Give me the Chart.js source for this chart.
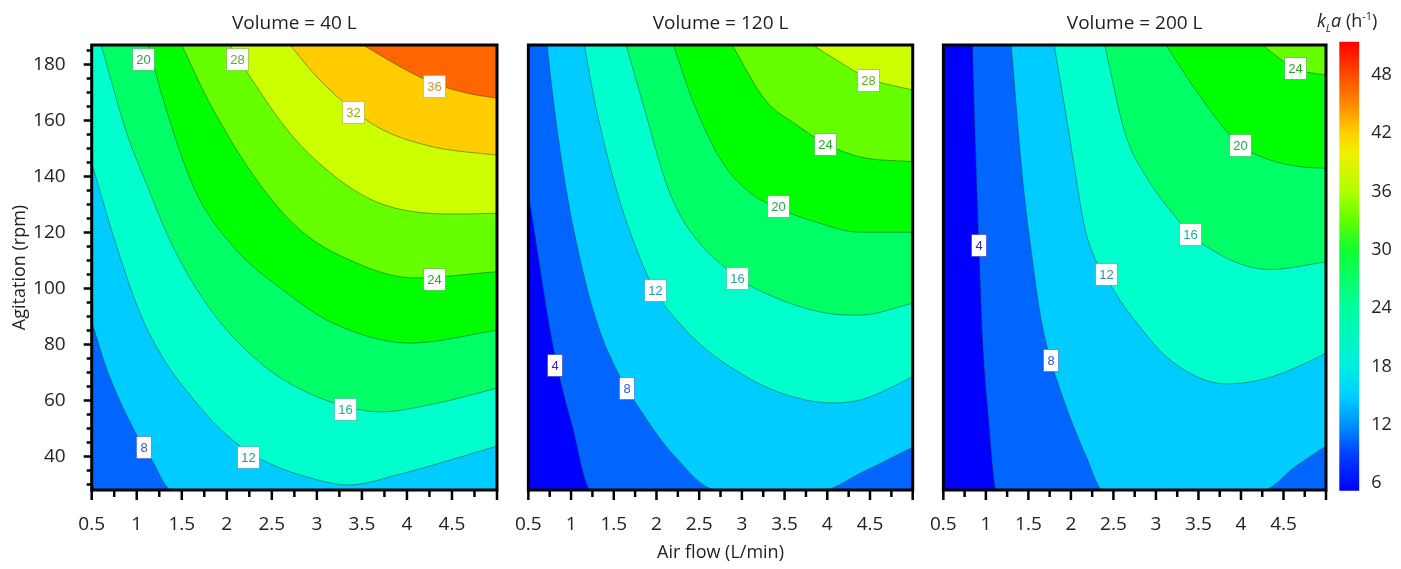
<!DOCTYPE html>
<html>
<head>
<meta charset="utf-8">
<script src="https://cdn.jsdelivr.net/npm/chart.js@4.4.1/dist/chart.umd.min.js"></script>
<style>
  body { margin: 0; background: #fff; }
  #wrap { position: relative; width: 1401px; height: 569px; overflow: hidden; }
  canvas { position: absolute; top: 0; }
</style>
</head>
<body>
<div id="wrap">
  <canvas id="p40" width="500" height="569" style="left:0px"></canvas>
  <canvas id="p120" width="415" height="569" style="left:500px"></canvas>
  <canvas id="p200" width="415" height="569" style="left:915px"></canvas>
  <canvas id="cbar" width="101" height="569" style="left:1300px"></canvas>
</div>
<script>
// axes
const airFlowRange = [0.5, 5];
const agitationRange = [28, 187];
const airFlowTicks = [0.5, 1, 1.5, 2, 2.5, 3, 3.5, 4, 4.5];
const agitationTicks = [40, 60, 80, 100, 120, 140, 160, 180];
const klaRange = [5.24, 51.4];
const klaTicks = [6, 12, 18, 24, 30, 36, 42, 48];
const volumes = ['Volume = 40 L', 'Volume = 120 L', 'Volume = 200 L'];
const levels = [4, 8, 12, 16, 20, 24, 28, 32, 36];

// contour lines: [air flow (L/min), agitation (rpm)]
// 40 L
const v40_4 = [[0.5, 31.6], [0.535, 28]];
const v40_8 = [[0.5, 88.1], [0.675, 70.5], [1.0, 47.6], [1.167, 38.7], [1.389, 28]];
const v40_12 = [[0.5, 144.8], [0.556, 138.7], [0.778, 114.9], [1.037, 91.2], [1.292, 75.1], [1.592, 61.9], [1.87, 51.6], [2.237, 41.6], [2.537, 36.6], [2.814, 33.4], [3.348, 29.8], [3.926, 33.7], [5, 43.7]];
const v40_16 = [[0.605, 187], [0.889, 155.5], [1.092, 138.7], [1.403, 114.9], [1.848, 91.2], [2.403, 72.6], [2.814, 64.1], [3.259, 58.4], [3.703, 55.9], [4.292, 58.7], [5, 64.4]];
const v40_20 = [[1.129, 187], [1.296, 167.3], [1.648, 135.1], [2.074, 114.9], [2.626, 99.4], [3.181, 87.6], [4.037, 80.5], [5, 85.1]];
const v40_24 = [[1.5, 187], [1.792, 167.3], [2.333, 138.7], [2.814, 120.9], [3.37, 110.1], [4.07, 103.8], [5, 106]];
const v40_28 = [[2.037, 187], [2.259, 175.6], [2.703, 155.4], [3.185, 140.4], [3.614, 131.6], [4.037, 127.6], [4.592, 126.6], [5, 126.9]];
const v40_32 = [[2.703, 187], [3.0, 175.6], [3.403, 163.7], [3.737, 156.6], [4.292, 150.6], [5, 147.6]];
const v40_36 = [[3.514, 187], [3.926, 179.2], [4.292, 173.4], [4.667, 169.8], [5, 168]];
// 120 L
const v120_4 = [[0.5, 134.1], [0.622, 110.1], [0.733, 88.7], [0.833, 72.6], [1.011, 51.2], [1.233, 28]];
const v120_8 = [[0.719, 187], [0.792, 167.3], [0.944, 135.1], [1.163, 103], [1.333, 85.1], [1.533, 70.9], [1.811, 56.6], [2.2, 40.5], [2.711, 28], [3.944, 28], [4.386, 34], [5, 43.3]];
const v120_12 = [[1.156, 187], [1.274, 167.3], [1.533, 135.1], [1.756, 114.9], [1.978, 99.4], [2.256, 88], [2.589, 78], [2.922, 70.9], [3.311, 64.4], [3.756, 60.1], [4.089, 59.1], [4.422, 60.5], [5, 68.4]];
const v120_16 = [[1.644, 187], [1.83, 167.3], [2.144, 135.1], [2.386, 120.9], [2.941, 104.2], [3.274, 98.3], [4.014, 91.1], [4.386, 90.5], [5, 94.7]];
const v120_20 = [[2.2, 187], [2.422, 167.3], [2.756, 145.9], [3.089, 134.4], [3.422, 128.7], [3.83, 124.1], [4.386, 120.1], [5, 120.1]];
const v120_24 = [[2.886, 187], [3.274, 167.3], [3.644, 158.4], [3.978, 151.8], [4.386, 147], [5, 145.3]];
const v120_28 = [[3.83, 187], [4.144, 180.9], [4.478, 175.1], [5, 170.9]];
// 200 L
const v200_4 = [[0.841, 187], [0.878, 149.4], [0.917, 115.5], [0.961, 81.6], [1.022, 56.6], [1.122, 28]];
const v200_8 = [[1.297, 187], [1.433, 138.7], [1.526, 114.9], [1.637, 91.1], [1.744, 76.2], [1.867, 64.4], [2.011, 52.3], [2.178, 40.1], [2.378, 28], [4.256, 28], [4.637, 36.3], [5, 43.7]];
const v200_12 = [[1.803, 187], [1.933, 163.7], [2.056, 140.5], [2.156, 122.6], [2.267, 111.9], [2.411, 104.1], [2.6, 94.8], [2.822, 85.9], [3.1, 76.2], [3.489, 68.4], [3.822, 65.9], [4.267, 67.6], [4.711, 72.6], [5, 76.9]];
const v200_16 = [[2.397, 187], [2.637, 155.5], [2.911, 138.7], [3.23, 125.6], [3.4, 119.4], [3.6, 114.9], [3.97, 109], [4.341, 106.8], [5, 109.5]];
const v200_20 = [[3.119, 187], [3.414, 173.3], [3.786, 157.8], [3.989, 151.2], [4.341, 145.9], [4.711, 143.5], [5, 142.9]];
const v200_24 = [[4.248, 187], [4.637, 178.6], [5, 176.2]];

// inline labels: [air flow, agitation, level]
const labels40 = [[1.07, 181.9, 20], [2.114, 181.9, 28], [3.403, 163, 32], [4.303, 172.3, 36], [4.304, 103.4, 24], [3.314, 56.9, 16], [2.237, 39.8, 12], [1.07, 43.4, 8]];
const labels120 = [[4.478, 174.4, 28], [3.978, 151.6, 24], [3.422, 129.4, 20], [2.944, 103.7, 16], [1.978, 99.4, 12], [1.644, 64.4, 8], [0.811, 72.6, 4]];
const labels200 = [[4.633, 178.7, 24], [3.989, 151.2, 20], [3.4, 119.4, 16], [2.411, 105.1, 12], [1.756, 74.4, 8], [0.908, 115.5, 4]];

// styles
const bandColors = ['#0000ff', '#0066ff', '#00ccff', '#00ffcc', '#00ff66', '#00ff00', '#66ff00', '#ccff00', '#ffcc00', '#ff6600'];
const labelColors = {4: '#2a2ab4', 8: '#2d5bd0', 12: '#1e94b8', 16: '#1fae8c', 20: '#22a845', 24: '#25a822', 28: '#5cae1e', 32: '#9ea814', 36: '#c89830'};
const klaStops = [[5.24, '#0000ff'], [9, '#0040ff'], [12, '#0090ff'], [15, '#00d0ff'], [18, '#00eee0'], [24, '#00ffa0'], [30, '#10ff30'], [33, '#60ff00'], [36, '#b0ff00'], [40, '#f0f000'], [42, '#ffd000'], [45.4, '#ff8000'], [48, '#ff4a00'], [51.4, '#ff0000']];

const fontFamily = '"Open Sans", "Noto Sans", sans-serif';
Chart.defaults.font.family = fontFamily;
Chart.defaults.color = '#222';

const panels = [
  { id: 'p40', title: volumes[0], yAxis: true, xTitle: false, padding: {left: 0, right: 3, top: 45, bottom: 0},
    lines: {4: v40_4, 8: v40_8, 12: v40_12, 16: v40_16, 20: v40_20, 24: v40_24, 28: v40_28, 32: v40_32, 36: v40_36}, labels: labels40 },
  { id: 'p120', title: volumes[1], yAxis: false, xTitle: true, padding: {left: 7, right: 2.3, top: 45, bottom: 0},
    lines: {4: v120_4, 8: v120_8, 12: v120_12, 16: v120_16, 20: v120_20, 24: v120_24, 28: v120_28}, labels: labels120 },
  { id: 'p200', title: volumes[2], yAxis: false, xTitle: false, padding: {left: 5.7, right: 4, top: 45, bottom: 0},
    lines: {4: v200_4, 8: v200_8, 12: v200_12, 16: v200_16, 20: v200_20, 24: v200_24}, labels: labels200 }
];

// a line that leaves through the bottom edge keeps its region closed along that edge
function closeBottom(pts) {
  const last = pts[pts.length - 1];
  const out = pts.slice();
  if (last[1] <= agitationRange[0] && last[0] < airFlowRange[1]) out.push([airFlowRange[1], agitationRange[0]]);
  return out;
}

const backgroundPlugin = {
  id: 'bandBackground',
  beforeDatasetsDraw(chart) {
    const {ctx, chartArea: a} = chart;
    ctx.save();
    ctx.fillStyle = bandColors[0];
    ctx.fillRect(a.left, a.top, a.right - a.left, a.bottom - a.top);
    ctx.restore();
  }
};

const contourLabelPlugin = {
  id: 'contourLabels',
  afterDatasetsDraw(chart, args, opts) {
    const {ctx, scales: {x, y}} = chart;
    ctx.save();
    ctx.font = '13px "Liberation Sans", Arial, sans-serif';
    ctx.textAlign = 'center';
    ctx.textBaseline = 'middle';
    opts.items.forEach(([vx, vy, level]) => {
      const px = x.getPixelForValue(vx);
      const py = y.getPixelForValue(vy);
      const text = String(level);
      const w = Math.round(ctx.measureText(text).width + 8);
      const h = 22;
      const left = Math.round(px - w / 2) + 0.5;
      const top = Math.round(py - h / 2) + 0.5;
      ctx.fillStyle = '#fff';
      ctx.fillRect(left, top, w, h);
      ctx.strokeStyle = labelColors[level] + '88';
      ctx.lineWidth = 1;
      ctx.strokeRect(left, top, w, h);
      ctx.fillStyle = labelColors[level];
      ctx.fillText(text, left + w / 2, top + h / 2 + 0.5);
    });
    ctx.restore();
  }
};

const framePlugin = {
  id: 'frame',
  afterDraw(chart, args, opts) {
    const {ctx, chartArea: a, scales: {x, y}} = chart;
    ctx.save();
    ctx.strokeStyle = '#000';
    ctx.lineWidth = 2.5;
    ctx.beginPath();
    for (let v = x.min; v <= x.max + 1e-9; v += 0.25) {
      const px = x.getPixelForValue(v);
      const major = Math.abs(v * 2 - Math.round(v * 2)) < 1e-6;
      ctx.moveTo(px, a.bottom);
      ctx.lineTo(px, a.bottom + (major ? 10 : 7));
    }
    if (opts.yTicks) {
      for (let v = 30; v <= y.max; v += 5) {
        const py = y.getPixelForValue(v);
        ctx.moveTo(a.left, py);
        ctx.lineTo(a.left - (v % 20 === 0 ? 8 : 5), py);
      }
    }
    ctx.stroke();
    ctx.lineWidth = 3;
    ctx.strokeRect(a.left, a.top, a.right - a.left, a.bottom - a.top);
    ctx.fillStyle = '#222';
    ctx.font = '19px ' + fontFamily;
    ctx.textAlign = 'center';
    ctx.textBaseline = 'middle';
    ctx.fillText(opts.title, (a.left + a.right) / 2, a.top - 21);
    ctx.restore();
  }
};

panels.forEach(p => {
  const datasets = levels.filter(l => p.lines[l]).map(l => ({
    label: String(l),
    data: closeBottom(p.lines[l]).map(([x, y]) => ({x, y})),
    borderColor: 'rgba(10, 50, 50, 0.55)',
    borderWidth: 0.8,
    backgroundColor: bandColors[levels.indexOf(l) + 1],
    fill: 'end',
    pointRadius: 0,
    cubicInterpolationMode: 'monotone',
    order: -l
  }));

  new Chart(document.getElementById(p.id), {
    type: 'line',
    data: { datasets },
    options: {
      responsive: false,
      animation: false,
      events: [],
      layout: { padding: p.padding },
      plugins: {
        legend: { display: false },
        tooltip: { enabled: false },
        contourLabels: { items: p.labels },
        frame: { title: p.title, yTicks: p.yAxis }
      },
      scales: {
        x: {
          type: 'linear',
          min: airFlowRange[0],
          max: airFlowRange[1],
          afterBuildTicks: s => { s.ticks = airFlowTicks.map(v => ({value: v})); },
          afterFit: s => { s.height = 79; },
          grid: { display: false },
          border: { display: false },
          ticks: { font: { size: 19 }, padding: 15, maxRotation: 0, autoSkip: false, callback: v => String(v) },
          title: { display: p.xTitle, text: 'Air flow (L/min)', font: { size: 18 }, padding: { top: 0, bottom: 5 } }
        },
        y: {
          type: 'linear',
          display: p.yAxis,
          min: agitationRange[0],
          max: agitationRange[1],
          afterBuildTicks: s => { s.ticks = agitationTicks.map(v => ({value: v})); },
          afterFit: s => { s.width = s.options.display ? 91.7 : 0; },
          grid: { display: false },
          border: { display: false },
          ticks: { font: { size: 19 }, padding: 18, callback: v => String(v) },
          title: { display: true, text: 'Agitation (rpm)', font: { size: 18 }, padding: { top: 9, bottom: 0 } }
        }
      }
    },
    plugins: [backgroundPlugin, contourLabelPlugin, framePlugin]
  });
});

function klaGradient(chart) {
  const {ctx, chartArea, scales} = chart;
  if (!chartArea) return bandColors[0];
  const y = scales.y;
  const g = ctx.createLinearGradient(0, y.getPixelForValue(klaRange[0]), 0, y.getPixelForValue(klaRange[1]));
  klaStops.forEach(([v, c]) => g.addColorStop((v - klaRange[0]) / (klaRange[1] - klaRange[0]), c));
  return g;
}

const cbarTitlePlugin = {
  id: 'cbarTitle',
  afterDraw(chart) {
    const {ctx} = chart;
    const base = 27;
    let x = 17;
    const parts = [
      ['k', 'italic 18px', 0],
      ['L', 'italic 11px', 5],
      ['a', 'italic 18px', 0],
      [' (h', '18px', 0],
      ['-1', '11px', -7],
      [')', '18px', 0]
    ];
    ctx.save();
    ctx.fillStyle = '#222';
    ctx.textBaseline = 'alphabetic';
    ctx.textAlign = 'left';
    parts.forEach(([t, f, dy]) => {
      ctx.font = f + ' ' + fontFamily;
      ctx.fillText(t, x, base + dy);
      x += ctx.measureText(t).width;
    });
    ctx.restore();
  }
};

new Chart(document.getElementById('cbar'), {
  type: 'bar',
  data: {
    labels: ['kLa'],
    datasets: [{
      data: [[klaRange[0], klaRange[1]]],
      backgroundColor: c => klaGradient(c.chart),
      borderWidth: 0,
      barPercentage: 1,
      categoryPercentage: 1
    }]
  },
  options: {
    responsive: false,
    animation: false,
    events: [],
    layout: { padding: { left: 39.3, right: 0, top: 41.7, bottom: 78.3 } },
    plugins: { legend: { display: false }, tooltip: { enabled: false } },
    scales: {
      x: { display: false },
      y: {
        position: 'right',
        min: klaRange[0],
        max: klaRange[1],
        afterBuildTicks: s => { s.ticks = klaTicks.map(v => ({value: v})); },
        afterFit: s => { s.width = 41.7; },
        grid: { display: false },
        border: { display: false },
        ticks: { font: { size: 18 }, padding: 4 }
      }
    }
  },
  plugins: [cbarTitlePlugin]
});
</script>
</body>
</html>
